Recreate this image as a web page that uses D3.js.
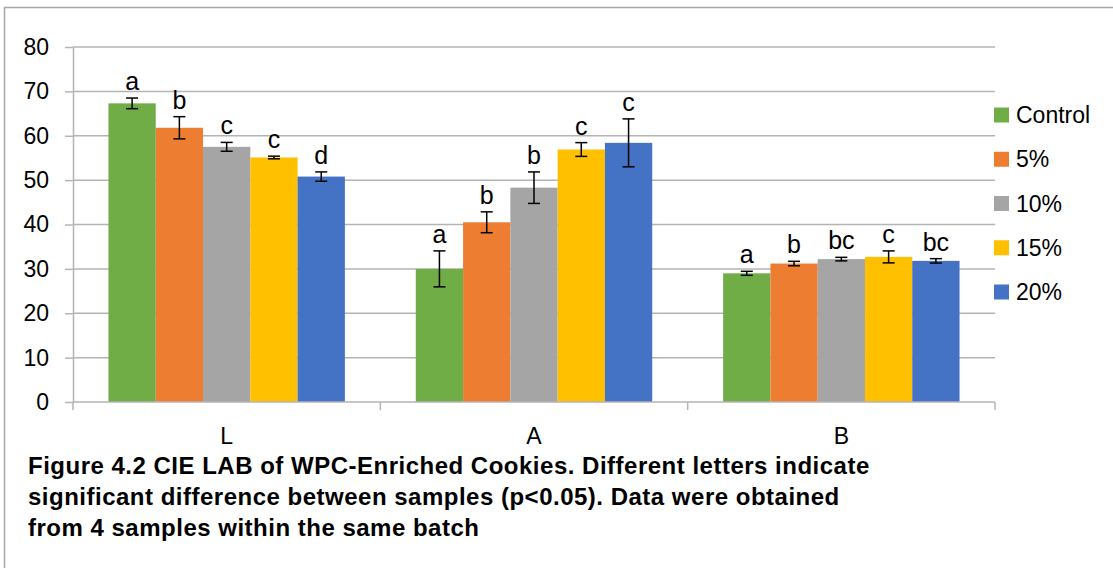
<!DOCTYPE html>
<html>
<head>
<meta charset="utf-8">
<script src="https://cdn.jsdelivr.net/npm/d3@7"></script>
<style>
  html, body { margin: 0; padding: 0; background: #fff; }
  svg { display: block; font-family: "Liberation Sans", Arial, sans-serif; }
</style>
</head>
<body>
<svg id="chart" width="1113" height="568"></svg>
<script>
const categories = ["L", "A", "B"];
const series = ["Control", "5%", "10%", "15%", "20%"];
const colors = ["#70ad47", "#ed7d31", "#a5a5a5", "#ffc000", "#4472c4"];

// means per series, in category order L, A, B
const controlVals = [67.3, 30.0, 29.0];
const pct5Vals = [61.8, 40.5, 31.2];
const pct10Vals = [57.5, 48.3, 32.2];
const pct15Vals = [55.1, 56.9, 32.7];
const pct20Vals = [50.8, 58.4, 31.8];

// error bar half widths
const controlErr = [1.2, 4.05, 0.45];
const pct5Err = [2.5, 2.35, 0.5];
const pct10Err = [1.0, 3.55, 0.4];
const pct15Err = [0.3, 1.55, 1.35];
const pct20Err = [1.05, 5.4, 0.5];

// significance letters
const controlLetters = ["a", "a", "a"];
const pct5Letters = ["b", "b", "b"];
const pct10Letters = ["c", "b", "bc"];
const pct15Letters = ["c", "c", "c"];
const pct20Letters = ["d", "c", "bc"];

const yTicks = [0, 10, 20, 30, 40, 50, 60, 70, 80];
const captionLines = [
  "Figure 4.2 CIE LAB of WPC-Enriched Cookies. Different letters indicate",
  "significant difference between samples (p<0.05). Data were obtained",
  "from 4 samples within the same batch"
];

const allVals = [controlVals, pct5Vals, pct10Vals, pct15Vals, pct20Vals];
const allErr = [controlErr, pct5Err, pct10Err, pct15Err, pct20Err];
const allLetters = [controlLetters, pct5Letters, pct10Letters, pct15Letters, pct20Letters];

const data = [];
series.forEach((s, si) => {
  categories.forEach((c, ci) => {
    data.push({
      series: s, cat: c,
      value: allVals[si][ci], err: allErr[si][ci],
      letter: allLetters[si][ci], color: colors[si]
    });
  });
});

const svg = d3.select("#chart");
const width = 1113, height = 568;
const margin = { top: 47, right: 118, bottom: 166, left: 73 };
const gridColor = "#b4b4b4";
const fontSize = 23;

// outer chart border (cut off on right and bottom)
svg.append("path")
  .attr("d", `M4.5,${height + 5} L4.5,7.5 L${width + 5},7.5`)
  .attr("fill", "none")
  .attr("stroke", "#a6a6a6")
  .attr("stroke-width", 1.5);

const x0 = d3.scaleBand()
  .domain(categories)
  .range([margin.left, width - margin.right])
  .padding(0);

const x1 = d3.scaleBand()
  .domain(series)
  .range([0, x0.bandwidth()])
  .paddingInner(0)
  .paddingOuter(0.75);

const y = d3.scaleLinear()
  .domain([0, 80])
  .range([height - margin.bottom, margin.top]);

// gridlines
svg.append("g")
  .selectAll("line")
  .data(yTicks.slice(1))
  .enter()
  .append("line")
  .attr("x1", margin.left)
  .attr("x2", width - margin.right)
  .attr("y1", d => y(d))
  .attr("y2", d => y(d))
  .attr("stroke", gridColor)
  .attr("stroke-width", 1.5);

// y axis
const yAxis = svg.append("g")
  .attr("transform", `translate(${margin.left},0)`)
  .call(d3.axisLeft(y).tickValues(yTicks).tickSize(8).tickPadding(16).tickSizeOuter(0));
yAxis.select(".domain").attr("stroke", gridColor).attr("stroke-width", 1.5);
yAxis.selectAll(".tick line").attr("stroke", gridColor).attr("stroke-width", 1.5);
yAxis.selectAll(".tick text")
  .attr("font-size", fontSize)
  .attr("font-family", "Liberation Sans, Arial, sans-serif")
  .attr("fill", "#000");

// bars
const bars = svg.append("g");
bars.selectAll("rect")
  .data(data)
  .enter()
  .append("rect")
  .attr("x", d => x0(d.cat) + x1(d.series))
  .attr("y", d => y(d.value))
  .attr("width", x1.bandwidth())
  .attr("height", d => y(0) - y(d.value))
  .attr("fill", d => d.color);

// x axis
const xAxisG = svg.append("g")
  .attr("transform", `translate(0,${y(0)})`);
xAxisG.append("line")
  .attr("x1", margin.left).attr("x2", width - margin.right)
  .attr("stroke", gridColor).attr("stroke-width", 1.5);
const bounds = categories.map(c => x0(c)).concat([x0(categories[categories.length - 1]) + x0.bandwidth()]);
xAxisG.selectAll("line.tick")
  .data(bounds)
  .enter()
  .append("line")
  .attr("class", "tick")
  .attr("x1", d => d).attr("x2", d => d)
  .attr("y1", 0).attr("y2", 8)
  .attr("stroke", gridColor).attr("stroke-width", 1.5);
xAxisG.selectAll("text")
  .data(categories)
  .enter()
  .append("text")
  .attr("x", d => x0(d) + x0.bandwidth() / 2)
  .attr("y", 42)
  .attr("text-anchor", "middle")
  .attr("font-size", fontSize)
  .text(d => d);

// error bars
const capW = 12;
const errG = svg.append("g").attr("stroke", "#000").attr("stroke-width", 1.5);
data.forEach(d => {
  const cx = x0(d.cat) + x1(d.series) + x1.bandwidth() / 2;
  const yHi = y(d.value + d.err), yLo = y(d.value - d.err);
  errG.append("line").attr("x1", cx).attr("x2", cx).attr("y1", yHi).attr("y2", yLo);
  errG.append("line").attr("x1", cx - capW / 2).attr("x2", cx + capW / 2).attr("y1", yHi).attr("y2", yHi);
  errG.append("line").attr("x1", cx - capW / 2).attr("x2", cx + capW / 2).attr("y1", yLo).attr("y2", yLo);
});

// significance letters
svg.append("g")
  .selectAll("text")
  .data(data)
  .enter()
  .append("text")
  .attr("x", d => x0(d.cat) + x1(d.series) + x1.bandwidth() / 2)
  .attr("y", d => y(d.value + d.err) - 8)
  .attr("text-anchor", "middle")
  .attr("font-size", 25)
  .text(d => d.letter);

// legend
const legend = svg.append("g")
  .attr("transform", `translate(994,0)`);
const legendY = d3.scalePoint().domain(series).range([115, 292]);
series.forEach((s, i) => {
  const g = legend.append("g").attr("transform", `translate(0,${legendY(s)})`);
  g.append("rect").attr("x", 0).attr("y", -7.5).attr("width", 15).attr("height", 15).attr("fill", colors[i]);
  g.append("text").attr("x", 22).attr("y", 8).attr("font-size", fontSize).text(s);
});

// caption
svg.append("g")
  .selectAll("text")
  .data(captionLines)
  .enter()
  .append("text")
  .attr("x", 28)
  .attr("y", (d, i) => 474 + i * 31)
  .attr("font-size", 24)
  .attr("letter-spacing", 0.5)
  .attr("font-weight", "bold")
  .text(d => d);
</script>
</body>
</html>
